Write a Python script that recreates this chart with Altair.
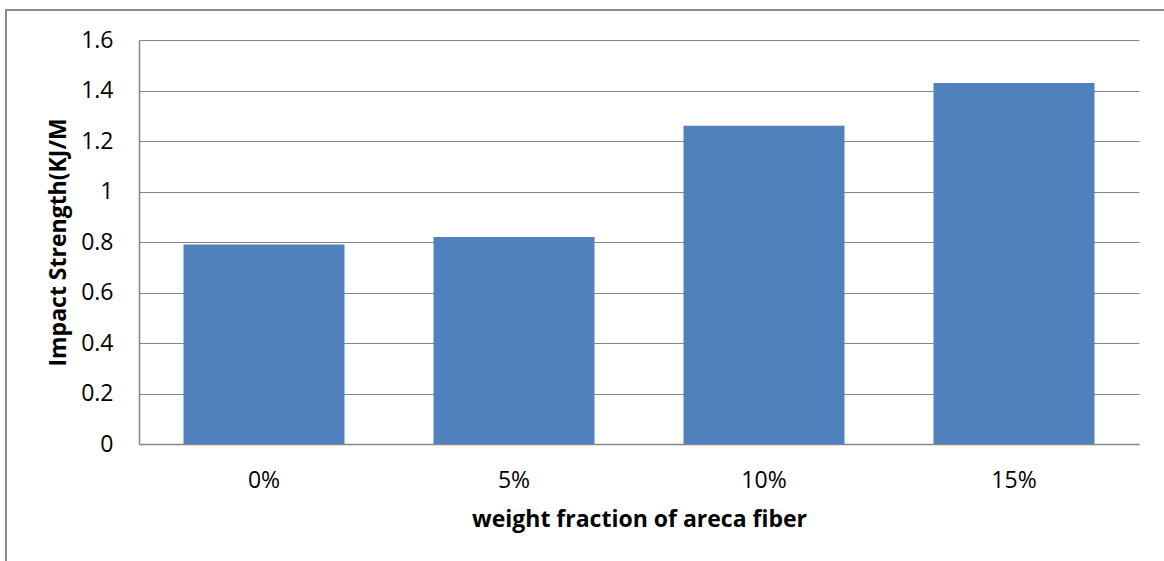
import altair as alt
import pandas as pd

# Impact strength of areca-fiber composites by fiber weight fraction
fractions = ["0%", "5%", "10%", "15%"]
impact_strength = [0.79, 0.82, 1.26, 1.43]
y_ticks = [0, 0.2, 0.4, 0.6, 0.8, 1, 1.2, 1.4, 1.6]

df = pd.DataFrame({"fraction": fractions, "strength": impact_strength})

FONT = "Open Sans"
GRID = "#868686"

bars = alt.Chart(df).mark_bar(color="#4F81BD").encode(
    x=alt.X(
        "fraction:N",
        sort=fractions,
        scale=alt.Scale(paddingInner=0.356, paddingOuter=0.178),
        axis=alt.Axis(
            title="weight fraction of areca fiber",
            labelAngle=0,
            ticks=False,
            domain=True,
            domainColor=GRID,
            domainWidth=1.5,
            labelPadding=25,
            titlePadding=16,
        ),
    ),
    y=alt.Y(
        "strength:Q",
        scale=alt.Scale(domain=[0, 1.6], nice=False),
        axis=alt.Axis(
            title="Impact Strength(KJ/M",
            values=y_ticks,
            format="~g",
            ticks=False,
            domain=True,
            domainColor=GRID,
            domainWidth=1.5,
            grid=True,
            gridColor=GRID,
            gridWidth=1.2,
            labelPadding=26,
            titlePadding=10,
        ),
    ),
)

# outer chart-area border
frame = alt.Chart(df).mark_rect(
    fill=None, stroke="#8c8c8c", strokeWidth=1.5
).encode(
    x=alt.value(-133), x2=alt.value(1100),
    y=alt.value(-30), y2=alt.value(600),
)

chart = (
    alt.layer(frame, bars)
    .properties(
        width=1000,
        height=404,
        padding={"left": 139, "top": 40, "right": 25, "bottom": 117},
        autosize=alt.AutoSizeParams(type="none"),
        background="white",
    )
    .configure_view(stroke=None)
    .configure_axis(
        labelFont=FONT,
        titleFont=FONT,
        labelFontSize=23,
        titleFontSize=23,
        labelColor="#000000",
        titleColor="#000000",
        titleFontWeight="bold",
    )
)

chart.save("out.html", embed_options={"renderer": "svg", "actions": False})
